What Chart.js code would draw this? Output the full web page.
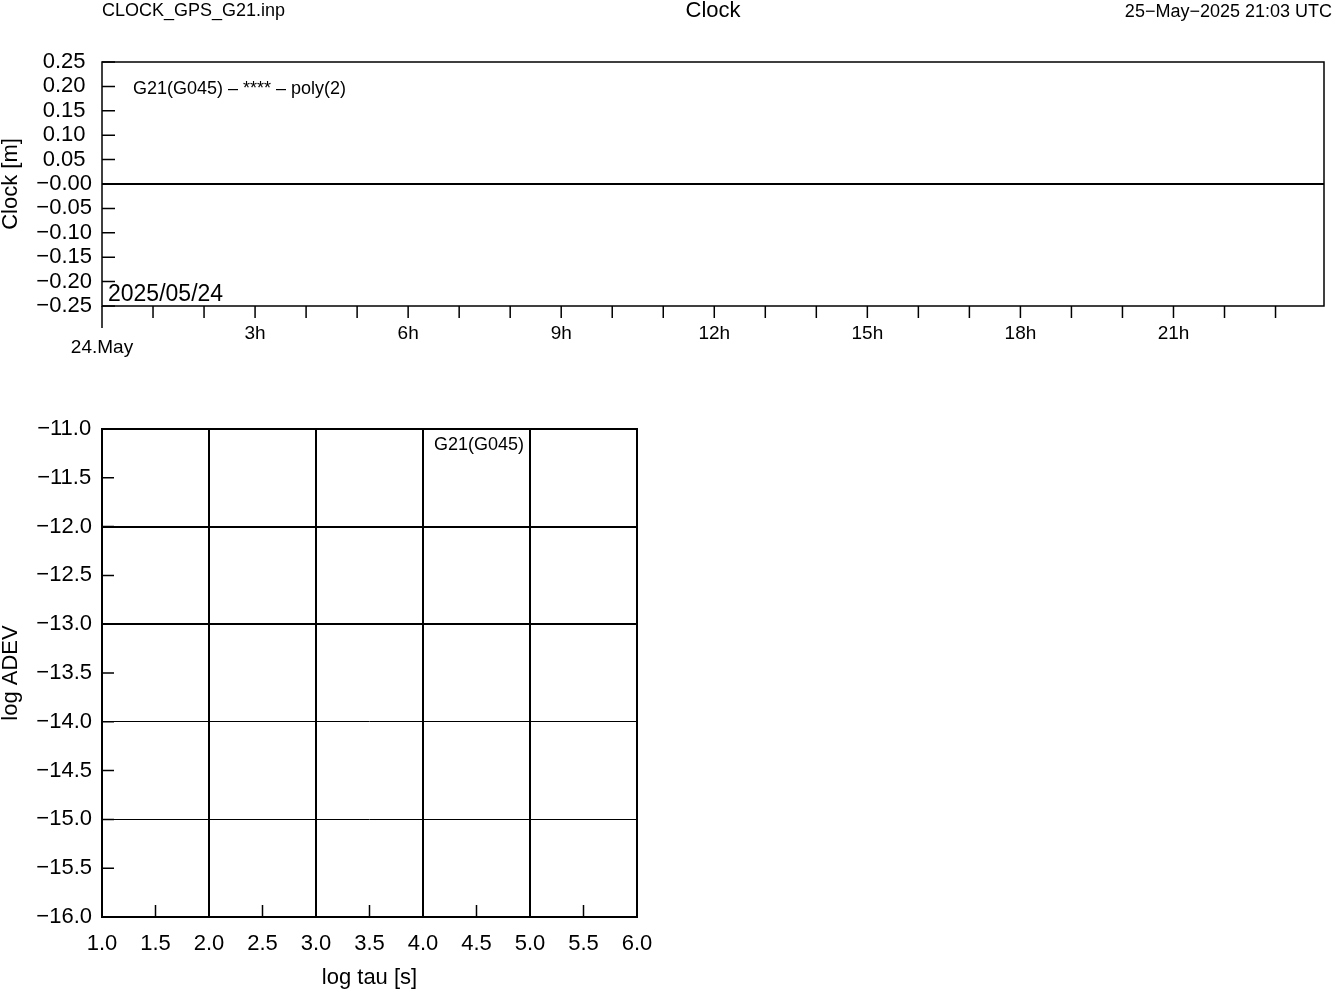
<!DOCTYPE html>
<html>
<head>
<meta charset="UTF-8">
<title>Clock</title>
<script src="https://cdn.jsdelivr.net/npm/chart.js"></script>
<style>
  body { margin: 0; background: #fff; }
  .box { position: absolute; left: 0; }
  #top { top: 0; width: 1333px; height: 380px; }
  #bottom { top: 380px; width: 700px; height: 609px; }
</style>
</head>
<body>
<div id="top" class="box"><canvas id="clock" width="1333" height="380"></canvas></div>
<div id="bottom" class="box"><canvas id="adev" width="700" height="609"></canvas></div>
<script>
const FONT = "'Liberation Sans', Arial, sans-serif";

// clock residuals: hours since 24.May 00:00, metres
const clockHours = [0, 23.95];
const clockValues = [0, 0];
const hourTicks = [0, 1, 2, 3, 4, 5, 6, 7, 8, 9, 10, 11, 12, 13, 14, 15, 16, 17, 18, 19, 20, 21, 22, 23];
const hourLabels = [['', '24.May'], '', '', '3h', '', '', '6h', '', '', '9h', '', '', '12h',
                    '', '', '15h', '', '', '18h', '', '', '21h', '', ''];
const clockTicks = [-0.25, -0.20, -0.15, -0.10, -0.05, 0, 0.05, 0.10, 0.15, 0.20, 0.25];
const clockLabels = ['\u22120.25', '\u22120.20', '\u22120.15', '\u22120.10', '\u22120.05', '\u22120.00',
                     '0.05', '0.10', '0.15', '0.20', '0.25'];

// allan deviation (no points in this file)
const adevTau = [];
const adevValues = [];
const tauTicks = [1, 1.5, 2, 2.5, 3, 3.5, 4, 4.5, 5, 5.5, 6];
const tauLabels = ['1.0', '1.5', '2.0', '2.5', '3.0', '3.5', '4.0', '4.5', '5.0', '5.5', '6.0'];
const adevTicks = [-16, -15.5, -15, -14.5, -14, -13.5, -13, -12.5, -12, -11.5, -11];
const adevLabels = ['\u221216.0', '\u221215.5', '\u221215.0', '\u221214.5', '\u221214.0', '\u221213.5',
                    '\u221213.0', '\u221212.5', '\u221212.0', '\u221211.5', '\u221211.0'];

Chart.defaults.font.family = FONT;
Chart.defaults.color = '#000';

function fixTicks(values) {
  return scale => { scale.ticks = values.map(v => ({ value: v })); };
}
function fixSize(w, h) {
  return scale => {
    if (w !== null) scale.width = w;
    if (h !== null) scale.height = h;
    scale.paddingLeft = scale.paddingRight = scale.paddingTop = scale.paddingBottom = 0;
  };
}
function text(ctx, s, x, y, size, align) {
  ctx.font = size + 'px ' + FONT;
  ctx.textAlign = align || 'left';
  ctx.textBaseline = 'middle';
  ctx.fillStyle = '#000';
  ctx.fillText(s, x, y);
}

const clockDeco = {
  id: 'clockDeco',
  afterDraw(chart) {
    const { ctx, chartArea: a, scales: { x, y } } = chart;
    ctx.save();
    ctx.strokeStyle = '#000';
    ctx.lineWidth = 1.5;
    ctx.strokeRect(a.left, a.top, a.right - a.left, a.bottom - a.top);
    ctx.beginPath();
    clockTicks.forEach(v => {
      const py = y.getPixelForValue(v);
      ctx.moveTo(a.left, py); ctx.lineTo(a.left + 13, py);
    });
    hourTicks.forEach(h => {
      const px = x.getPixelForValue(h);
      ctx.moveTo(px, a.bottom); ctx.lineTo(px, a.bottom + (h === 0 ? 22 : 12));
    });
    ctx.stroke();
    text(ctx, 'CLOCK_GPS_G21.inp', 102, 11, 18);
    text(ctx, 'Clock', (a.left + a.right) / 2, 11, 22, 'center');
    text(ctx, '25\u2212May\u22122025 21:03 UTC', 1332, 12, 18, 'right');
    text(ctx, 'G21(G045) \u2013 **** \u2013 poly(2)', a.left + 31, 89, 18);
    text(ctx, '2025/05/24', a.left + 6, 295, 23);
    ctx.restore();
  }
};

new Chart(document.getElementById('clock'), {
  type: 'line',
  data: {
    datasets: [{
      data: clockHours.map((h, i) => ({ x: h, y: clockValues[i] })),
      borderColor: '#000', borderWidth: 2, pointRadius: 0, tension: 0
    }]
  },
  options: {
    responsive: false, animation: false,
    layout: { padding: { top: 62, right: 9, bottom: 14, left: 0 } },
    plugins: { legend: { display: false }, tooltip: { enabled: false } },
    scales: {
      x: {
        type: 'linear', min: 0, max: 23.95,
        afterBuildTicks: fixTicks(hourTicks),
        afterFit: fixSize(null, 60),
        grid: { display: false, drawTicks: false },
        border: { display: false },
        ticks: {
          autoSkip: false, maxRotation: 0, minRotation: 0, padding: 21,
          font: { size: 19, lineHeight: '14px' },
          callback: (v, i) => hourLabels[i]
        }
      },
      y: {
        min: -0.25, max: 0.25,
        afterBuildTicks: fixTicks(clockTicks),
        afterFit: fixSize(102, null),
        grid: { display: false, drawTicks: false },
        border: { display: false },
        title: { display: true, text: 'Clock [m]', font: { size: 22, lineHeight: 1 }, padding: 0 },
        ticks: {
          autoSkip: false, crossAlign: 'center', padding: 10,
          font: { size: 22 },
          callback: (v, i) => clockLabels[i]
        }
      }
    }
  },
  plugins: [clockDeco]
});

const isWhole = v => Math.abs(v - Math.round(v)) < 1e-6;

const adevDeco = {
  id: 'adevDeco',
  afterDraw(chart) {
    const { ctx, chartArea: a, scales: { x, y } } = chart;
    ctx.save();
    ctx.strokeStyle = '#000';
    ctx.lineWidth = 2;
    ctx.strokeRect(a.left, a.top, a.right - a.left, a.bottom - a.top);
    ctx.lineWidth = 1.5;
    ctx.beginPath();
    tauTicks.forEach(v => {
      const px = x.getPixelForValue(v);
      ctx.moveTo(px, a.bottom); ctx.lineTo(px, a.bottom - 12);
    });
    adevTicks.forEach(v => {
      const py = y.getPixelForValue(v);
      ctx.moveTo(a.left, py); ctx.lineTo(a.left + 12, py);
    });
    ctx.stroke();
    text(ctx, 'G21(G045)', a.left + 332, a.top + 16, 18);
    ctx.restore();
  }
};

new Chart(document.getElementById('adev'), {
  type: 'line',
  data: {
    datasets: [{
      label: 'G21(G045)',
      data: adevTau.map((t, i) => ({ x: t, y: adevValues[i] })),
      borderColor: '#000', borderWidth: 1, pointRadius: 0
    }]
  },
  options: {
    responsive: false, animation: false,
    layout: { padding: { top: 49, right: 63, bottom: 0, left: 0 } },
    plugins: { legend: { display: false }, tooltip: { enabled: false } },
    scales: {
      x: {
        type: 'linear', min: 1, max: 6,
        afterBuildTicks: fixTicks(tauTicks),
        afterFit: fixSize(null, 72),
        grid: {
          drawTicks: false, lineWidth: 2,
          color: c => isWhole(c.tick.value) ? '#000' : 'rgba(0,0,0,0)'
        },
        border: { display: false },
        title: { display: true, text: 'log tau [s]', font: { size: 22, lineHeight: 1 }, padding: { top: 0, bottom: 0 } },
        ticks: {
          autoSkip: false, maxRotation: 0, minRotation: 0, padding: 16,
          font: { size: 22, lineHeight: 1 },
          callback: (v, i) => tauLabels[i]
        }
      },
      y: {
        min: -16, max: -11,
        afterBuildTicks: fixTicks(adevTicks),
        afterFit: fixSize(102, null),
        grid: {
          drawTicks: false,
          lineWidth: c => c.tick.value > -13.5 ? 2 : 1,
          color: c => isWhole(c.tick.value) ? '#000' : 'rgba(0,0,0,0)'
        },
        border: { display: false },
        title: { display: true, text: 'log ADEV', font: { size: 22, lineHeight: 1 }, padding: 0 },
        ticks: {
          autoSkip: false, crossAlign: 'center', padding: 10,
          font: { size: 22 },
          callback: (v, i) => adevLabels[i]
        }
      }
    }
  },
  plugins: [adevDeco]
});
</script>
</body>
</html>
